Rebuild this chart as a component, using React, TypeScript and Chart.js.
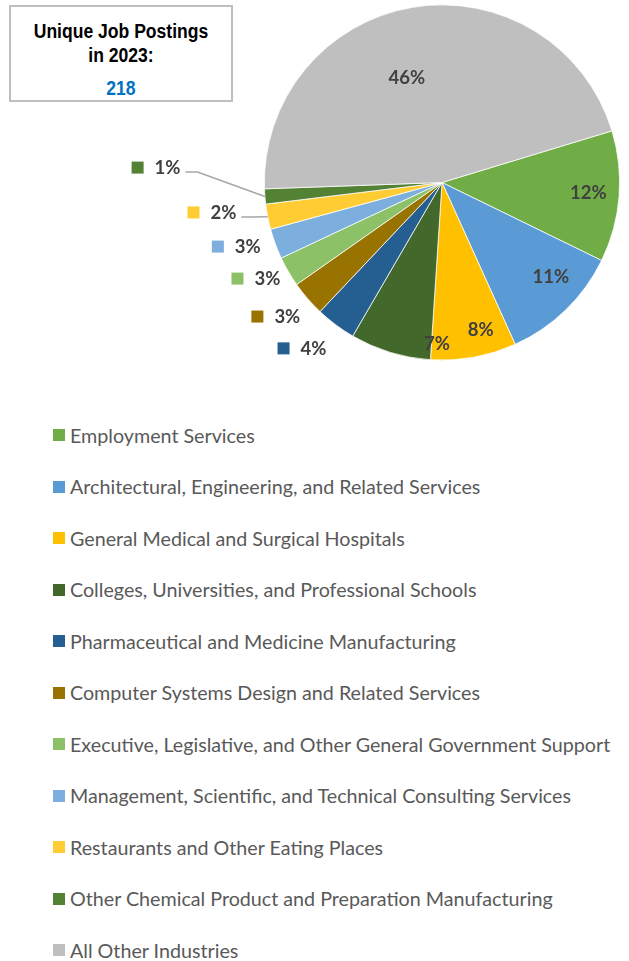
import React, { useEffect, useRef } from "react";
import { Chart, registerables } from "chart.js";

Chart.register(...registerables);

const categories: string[] = [
  "Employment Services",
  "Architectural, Engineering, and Related Services",
  "General Medical and Surgical Hospitals",
  "Colleges, Universities, and Professional Schools",
  "Pharmaceutical and Medicine Manufacturing",
  "Computer Systems Design and Related Services",
  "Executive, Legislative, and Other General Government Support",
  "Management, Scientific, and Technical Consulting Services",
  "Restaurants and Other Eating Places",
  "Other Chemical Product and Preparation Manufacturing",
  "All Other Industries",
];

const postings: number[] = [26, 24, 17, 16, 8, 7, 6, 6, 5, 3, 100];

const colors: string[] = [
  "#70AD47",
  "#5B9BD5",
  "#FFC000",
  "#43682B",
  "#255E91",
  "#997300",
  "#8CC168",
  "#7CAFDD",
  "#FFCD33",
  "#548235",
  "#BFBFBF",
];

const titleLines: string[] = ["Unique Job Postings", "in 2023:"];
const totalLabel = "218";

// label placement relative to each arc: r = fraction of radius, da = angle shift (deg)
const placements = [
  { r: 0.826, da: -0.4, out: false, leader: false },
  { r: 0.81, da: -5, out: false, leader: false },
  { r: 0.857, da: -4.4, out: false, leader: false },
  { r: 0.91, da: -15.2, out: false, leader: false },
  { r: 1.222, da: 3.4, out: true, leader: false },
  { r: 1.202, da: 1.95, out: true, leader: false },
  { r: 1.179, da: 2.8, out: true, leader: false },
  { r: 1.213, da: 2.9, out: true, leader: false },
  { r: 1.306, da: 3.7, out: true, leader: true },
  { r: 1.612, da: 7.5, out: true, leader: true },
  { r: 0.62, da: -9.1, out: false, leader: false },
];

const FONT = "Lato, Carlito, Calibri, 'Open Sans', sans-serif";

const labelPlugin = {
  id: "sliceLabels",
  afterDatasetsDraw(chart: any) {
    const ctx = chart.ctx as CanvasRenderingContext2D;
    const meta = chart.getDatasetMeta(0);
    const data = chart.data.datasets[0].data as number[];
    const total = data.reduce((a, b) => a + b, 0);
    ctx.save();
    ctx.font = `bold 18.5px ${FONT}`;
    ctx.textBaseline = "middle";
    meta.data.forEach((arc: any, i: number) => {
      const { x, y, startAngle, endAngle, outerRadius } = arc.getProps(
        ["x", "y", "startAngle", "endAngle", "outerRadius"],
        true
      );
      const mid = (startAngle + endAngle) / 2;
      const p = placements[i];
      const a = mid + (p.da * Math.PI) / 180;
      const r = outerRadius * p.r;
      const cx = x + Math.cos(a) * r;
      const cy = y + Math.sin(a) * r;
      const txt = Math.round((data[i] / total) * 100) + "%";
      ctx.fillStyle = "#404040";
      if (!p.out) {
        ctx.textAlign = "center";
        ctx.fillText(txt, cx, cy);
        return;
      }
      const tw = ctx.measureText(txt).width;
      const blockW = 12 + 11 + tw;
      const left = cx - blockW / 2;
      ctx.fillStyle = colors[i];
      ctx.fillRect(left, cy - 6, 12, 12);
      ctx.fillStyle = "#404040";
      ctx.textAlign = "left";
      ctx.fillText(txt, left + 23, cy + 0.5);
      if (p.leader) {
        const lx = left + 23 + tw + 5;
        const ly = cy + 4.5;
        ctx.strokeStyle = "#A6A6A6";
        ctx.lineWidth = 1.5;
        ctx.beginPath();
        ctx.moveTo(lx, ly);
        ctx.lineTo(lx + 12, ly);
        ctx.lineTo(x + Math.cos(mid) * outerRadius, y + Math.sin(mid) * outerRadius);
        ctx.stroke();
      }
    });
    ctx.restore();
  },
};

export default function App() {
  const ref = useRef<HTMLCanvasElement | null>(null);
  useEffect(() => {
    if (!ref.current) return;
    const chart = new Chart(ref.current, {
      type: "pie",
      data: {
        labels: categories,
        datasets: [
          {
            data: postings,
            backgroundColor: colors,
            borderColor: "#ffffff",
            borderWidth: 0.75,
          },
        ],
      },
      options: {
        responsive: false,
        animation: false,
        rotation: 73.1,
        layout: { padding: { left: 264, right: 9, top: 4.5, bottom: 39.5 } },
        plugins: {
          legend: { display: false },
          tooltip: { enabled: false },
        },
      },
      plugins: [labelPlugin],
    });
    return () => chart.destroy();
  }, []);

  return (
    <div
      style={{
        position: "fixed",
        left: 0,
        top: 0,
        width: 629,
        height: 961,
        background: "#ffffff",
        overflow: "hidden",
      }}
    >
      <canvas
        ref={ref}
        width={629}
        height={400}
        style={{ position: "absolute", left: 0, top: 0, width: 629, height: 400 }}
      />
      <div
        style={{
          position: "absolute",
          left: 9,
          top: 5,
          width: 224,
          height: 97,
          boxSizing: "border-box",
          border: "2px solid #BFBFBF",
          background: "#fff",
          fontFamily: "'Liberation Sans Narrow', 'Arial Narrow', 'Liberation Sans', Arial, sans-serif",
          fontWeight: "bold",
          fontSize: 19.5,
          textAlign: "center",
          color: "#000",
        }}
      >
        <div
          style={{
            position: "absolute",
            left: 0,
            right: 0,
            top: 12,
            lineHeight: "24px",
            transform: "scaleX(0.9)",
          }}
        >
          {titleLines.map((t) => (
            <div key={t}>{t}</div>
          ))}
        </div>
        <div
          style={{
            position: "absolute",
            left: 0,
            right: 0,
            top: 69,
            lineHeight: "24px",
            color: "#0070C0",
            transform: "scaleX(0.9)",
          }}
        >
          {totalLabel}
        </div>
      </div>
      <div style={{ position: "absolute", left: 53, top: 409.5 }}>
        {categories.map((c, i) => (
          <div
            key={c}
            style={{
              height: 51.5,
              display: "flex",
              alignItems: "center",
              whiteSpace: "nowrap",
            }}
          >
            <span
              style={{
                display: "inline-block",
                width: 12,
                height: 12,
                background: colors[i],
                marginRight: 5,
              }}
            />
            <span
              style={{
                fontFamily: FONT,
                fontSize: 19.7,
                color: "#595959",
              }}
            >
              {c}
            </span>
          </div>
        ))}
      </div>
    </div>
  );
}
